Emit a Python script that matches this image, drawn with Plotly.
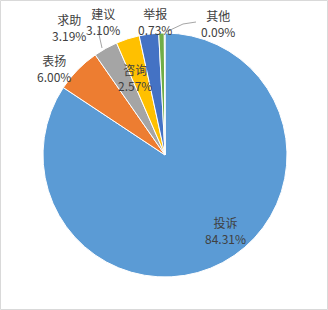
import plotly.graph_objects as go

categories = ["投诉", "表扬", "求助", "建议", "咨询", "举报", "其他"]
values = [84.31, 6.00, 3.19, 3.10, 2.57, 0.73, 0.09]
colors = ["#5B9BD5", "#ED7D31", "#A5A5A5", "#FFC000", "#4472C4", "#70AD47", "#255E91"]

W, H = 328, 310
# label positions in pixels (x, y of first line centre)
label_pos = {
    "投诉": (226, 222),
    "表扬": (54, 60),
    "求助": (69, 19),
    "建议": (103, 13),
    "咨询": (135, 70),
    "举报": (155, 13),
    "其他": (218, 15),
}

cx, cy, r = 165, 155, 122

fig = go.Figure(go.Pie(
    labels=categories,
    values=values,
    sort=False,
    direction="clockwise",
    rotation=0,
    marker=dict(colors=colors, line=dict(color="white", width=1)),
    textinfo="none",
    hoverinfo="label+percent",
    domain=dict(x=[(cx - r) / W, (cx + r) / W], y=[1 - (cy + r) / H, 1 - (cy - r) / H]),
    showlegend=False,
))

def px(x):
    return x / W

def py(y):
    return 1 - y / H

font = dict(family="Noto Sans CJK SC, Microsoft YaHei, sans-serif", size=12, color="#404040")
anns = []
for cat, val in zip(categories, values):
    x, y = label_pos[cat]
    anns.append(dict(x=px(x), y=py(y + 8), xref="paper", yref="paper",
                     text=f"{cat}<br>{val:.2f}%", showarrow=False, font=font,
                     xanchor="center", yanchor="middle", align="center"))

shapes = [
    dict(type="rect", xref="paper", yref="paper", x0=px(0.5), y0=py(0.5), x1=px(W - 0.5), y1=py(H - 0.5),
         line=dict(color="#D9D9D9", width=1)),
    dict(type="path", xref="paper", yref="paper",
         path=f"M {px(196)} {py(22)} L {px(183)} {py(24)} L {px(166)} {py(32)}",
         line=dict(color="#A6A6A6", width=1)),
    dict(type="line", xref="paper", yref="paper", x0=px(98), y0=py(30), x1=px(102), y1=py(48),
         line=dict(color="#A6A6A6", width=1)),
]

fig.update_layout(
    width=W, height=H,
    margin=dict(l=0, r=0, t=0, b=0),
    paper_bgcolor="white",
    annotations=anns,
    shapes=shapes,
)

fig.write_html("out.html")
